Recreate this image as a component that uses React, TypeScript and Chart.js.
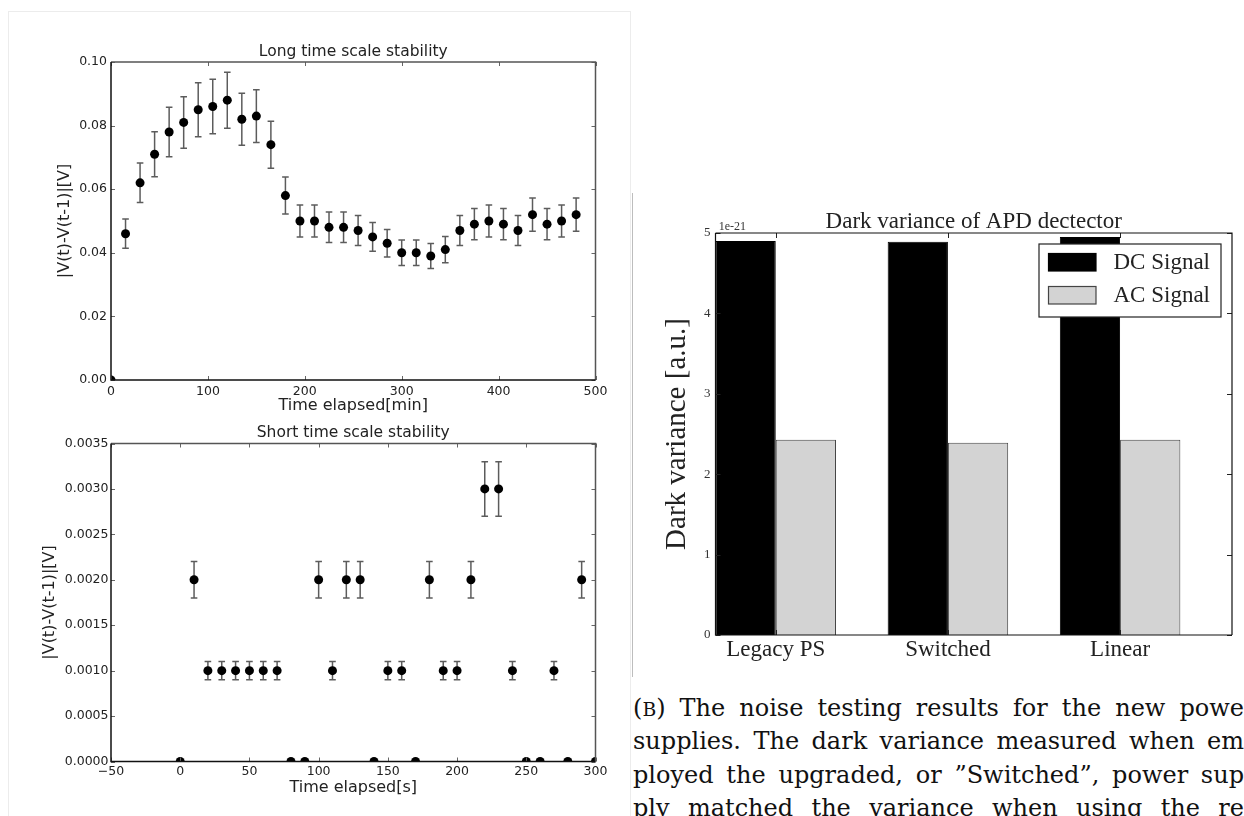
import React, { useEffect, useRef } from "react";
import { Chart, registerables } from "chart.js";

Chart.register(...registerables);

// ---------------- data ----------------
// Long time scale stability
const longTimeMin = [0, 15, 30, 45, 60, 75, 90, 105, 120, 135, 150, 165, 180, 195, 210, 225, 240, 255, 270, 285, 300, 315, 330, 345, 360, 375, 390, 405, 420, 435, 450, 465, 480];
const longDeltaV = [0, 0.046, 0.062, 0.071, 0.078, 0.081, 0.085, 0.086, 0.088, 0.082, 0.083, 0.074, 0.058, 0.05, 0.05, 0.048, 0.048, 0.047, 0.045, 0.043, 0.04, 0.04, 0.039, 0.041, 0.047, 0.049, 0.05, 0.049, 0.047, 0.052, 0.049, 0.05, 0.052];
const longErr = [0, 0.0046, 0.0062, 0.0071, 0.0078, 0.0081, 0.0085, 0.0086, 0.0088, 0.0082, 0.0083, 0.0074, 0.0058, 0.005, 0.005, 0.0048, 0.0048, 0.0047, 0.0045, 0.0043, 0.004, 0.004, 0.0039, 0.0041, 0.0047, 0.0049, 0.005, 0.0049, 0.0047, 0.0052, 0.0049, 0.005, 0.0052];
const longXTicks = [0, 100, 200, 300, 400, 500];
const longYTicks = [0, 0.02, 0.04, 0.06, 0.08, 0.1];

// Short time scale stability
const shortTimeS = [0, 10, 20, 30, 40, 50, 60, 70, 80, 90, 100, 110, 120, 130, 140, 150, 160, 170, 180, 190, 200, 210, 220, 230, 240, 250, 260, 270, 280, 290, 300];
const shortDeltaV = [0, 0.002, 0.001, 0.001, 0.001, 0.001, 0.001, 0.001, 0, 0, 0.002, 0.001, 0.002, 0.002, 0, 0.001, 0.001, 0, 0.002, 0.001, 0.001, 0.002, 0.003, 0.003, 0.001, 0, 0, 0.001, 0, 0.002, 0];
const shortErr = [0, 0.0002, 0.0001, 0.0001, 0.0001, 0.0001, 0.0001, 0.0001, 0, 0, 0.0002, 0.0001, 0.0002, 0.0002, 0, 0.0001, 0.0001, 0, 0.0002, 0.0001, 0.0001, 0.0002, 0.0003, 0.0003, 0.0001, 0, 0, 0.0001, 0, 0.0002, 0];
const shortXTicks = [-50, 0, 50, 100, 150, 200, 250, 300];
const shortYTicks = [0, 0.0005, 0.001, 0.0015, 0.002, 0.0025, 0.003, 0.0035];

// Dark variance of APD detector (values in units of 1e-21)
const supplyLabels = ["Legacy PS", "Switched", "Linear"];
const dcSignal = [4.9, 4.89, 4.95];
const acSignal = [2.43, 2.39, 2.43];
const varianceTicks = [0, 1, 2, 3, 4, 5];
const varianceExponent = "1e-21";
const groupTickOffset = 0.35; // tick sits between the DC and AC bar of each group

// Caption
const captionTag = "B";
const captionLines = [
  ") The noise testing results for the new powe",
  "supplies. The dark variance measured when em",
  "ployed the upgraded, or \u201DSwitched\u201D, power sup",
  "ply matched the variance when using the re",
];

// ---------------- styling helpers ----------------
const SANS = "DejaVu Sans";
const SERIF = "Liberation Serif";
const TXT = "#222222";

const errorBarPlugin = {
  id: "errorBars",
  beforeDatasetsDraw(chart: any, _a: any, o: any) {
    const { ctx, chartArea, scales } = chart;
    const ds = chart.data.datasets[0];
    ctx.save();
    ctx.beginPath();
    ctx.rect(chartArea.left, chartArea.top, chartArea.right - chartArea.left, chartArea.bottom - chartArea.top);
    ctx.clip();
    ctx.strokeStyle = o.color;
    ctx.lineWidth = o.width;
    ds.data.forEach((p: any, i: number) => {
      const e = o.errors[i];
      if (!e) return;
      const x = scales.x.getPixelForValue(p.x);
      const y1 = scales.y.getPixelForValue(p.y + e);
      const y2 = scales.y.getPixelForValue(p.y - e);
      ctx.beginPath();
      ctx.moveTo(x, y1);
      ctx.lineTo(x, y2);
      ctx.moveTo(x - o.cap, y1);
      ctx.lineTo(x + o.cap, y1);
      ctx.moveTo(x - o.cap, y2);
      ctx.lineTo(x + o.cap, y2);
      ctx.stroke();
    });
    ctx.restore();
  },
};

const framePlugin = {
  id: "frame",
  afterDraw(chart: any, _a: any, o: any) {
    const { ctx, chartArea, scales } = chart;
    const { left, right, top, bottom } = chartArea;
    ctx.save();
    // inward ticks on all four sides
    ctx.strokeStyle = o.tickColor;
    ctx.lineWidth = 1;
    ctx.beginPath();
    const L = o.tickLength;
    scales.x.ticks.forEach((t: any) => {
      const x = Math.round(scales.x.getPixelForValue(t.value)) + 0.5;
      ctx.moveTo(x, bottom);
      ctx.lineTo(x, bottom - L);
      ctx.moveTo(x, top);
      ctx.lineTo(x, top + L);
    });
    scales.y.ticks.forEach((t: any) => {
      const y = Math.round(scales.y.getPixelForValue(t.value)) + 0.5;
      ctx.moveTo(left, y);
      ctx.lineTo(left + L, y);
      ctx.moveTo(right, y);
      ctx.lineTo(right - L, y);
    });
    ctx.stroke();
    // spines
    ctx.lineWidth = o.width;
    ctx.strokeStyle = o.farColor;
    ctx.beginPath();
    ctx.moveTo(left, top);
    ctx.lineTo(right, top);
    ctx.lineTo(right, bottom);
    ctx.stroke();
    ctx.strokeStyle = o.nearColor;
    ctx.beginPath();
    ctx.moveTo(left, top);
    ctx.lineTo(left, bottom);
    ctx.lineTo(right, bottom);
    ctx.stroke();
    ctx.restore();
  },
};

const offsetTextPlugin = {
  id: "offsetText",
  afterDraw(chart: any, _a: any, o: any) {
    const { ctx, chartArea } = chart;
    ctx.save();
    ctx.font = o.font;
    ctx.fillStyle = o.color;
    ctx.textAlign = "left";
    ctx.textBaseline = "middle";
    ctx.fillText(o.text, chartArea.left + o.dx, chartArea.top + o.dy);
    ctx.restore();
  },
};

const boxLegendPlugin = {
  id: "boxLegend",
  afterDraw(chart: any, _a: any, o: any) {
    const { ctx, chartArea } = chart;
    const left = chartArea.right - o.inset - o.width;
    const top = chartArea.top + o.inset;
    ctx.save();
    ctx.fillStyle = "#fff";
    ctx.fillRect(left, top, o.width, o.height);
    ctx.strokeStyle = o.borderColor;
    ctx.lineWidth = 1.2;
    ctx.strokeRect(left, top, o.width, o.height);
    ctx.font = o.font;
    ctx.textAlign = "left";
    ctx.textBaseline = "middle";
    chart.data.datasets.forEach((ds: any, i: number) => {
      const sy = top + o.swatchTop + i * o.rowGap;
      const sx = left + o.swatchLeft;
      ctx.fillStyle = ds.backgroundColor;
      ctx.fillRect(sx, sy, o.swatchW, o.swatchH);
      ctx.strokeStyle = ds.borderColor;
      ctx.lineWidth = 1.2;
      ctx.strokeRect(sx, sy, o.swatchW, o.swatchH);
      ctx.fillStyle = o.color;
      ctx.fillText(ds.label, left + o.textLeft, sy + o.swatchH / 2 + 1);
    });
    ctx.restore();
  },
};

function stabilityConfig(p: any) {
  const tickFont = { family: SANS, size: 12.5 };
  const axisFont = { family: SANS, size: 16, lineHeight: 1.2 };
  return {
    type: "scatter",
    data: {
      datasets: [
        {
          data: p.xs.map((x: number, i: number) => ({ x, y: p.ys[i] })),
          pointRadius: 4.5,
          pointHoverRadius: 4.5,
          pointBackgroundColor: "#000",
          pointBorderColor: "#000",
          pointBorderWidth: 0,
          showLine: false,
          clip: 0,
        },
      ],
    },
    options: {
      responsive: false,
      animation: false,
      events: [],
      layout: { padding: p.padding },
      plugins: {
        legend: { display: false },
        tooltip: { enabled: false },
        title: {
          display: true,
          text: p.title,
          fullSize: false,
          color: TXT,
          font: { family: SANS, size: 15.5, weight: "normal", lineHeight: 1.2 },
          padding: { top: 0, bottom: 1 },
        },
        errorBars: { errors: p.errs, color: "#5c5c5c", width: 1.5, cap: 3.3 },
        frame: { tickColor: "#666", tickLength: 4, width: 1.5, nearColor: "#111", farColor: "#555" },
      },
      scales: {
        x: {
          type: "linear",
          min: p.xTicks[0],
          max: p.xTicks[p.xTicks.length - 1],
          afterBuildTicks: (s: any) => {
            s.ticks = p.xTicks.map((value: number) => ({ value }));
          },
          afterFit: (s: any) => {
            s.height = p.xHeight;
          },
          grid: { display: false, drawTicks: false },
          border: { display: false },
          ticks: {
            font: tickFont,
            color: TXT,
            padding: p.xTickPad,
            maxRotation: 0,
            autoSkip: false,
            callback: (v: number) => (v < 0 ? "\u2212" + Math.abs(v) : String(v)),
          },
          title: { display: true, text: p.xTitle, color: TXT, font: axisFont, padding: { top: 0, bottom: p.xTitlePad } },
        },
        y: {
          type: "linear",
          min: p.yTicks[0],
          max: p.yTicks[p.yTicks.length - 1],
          afterBuildTicks: (s: any) => {
            s.ticks = p.yTicks.map((value: number) => ({ value }));
          },
          afterFit: (s: any) => {
            s.width = p.yWidth;
          },
          grid: { display: false, drawTicks: false },
          border: { display: false },
          ticks: {
            font: tickFont,
            color: TXT,
            padding: p.yTickPad,
            autoSkip: false,
            callback: (v: number) => Number(v).toFixed(p.yDigits),
          },
          title: { display: true, text: "|V(t)-V(t-1)|[V]", color: TXT, font: axisFont, padding: { top: p.yTitlePad, bottom: 0 } },
        },
      },
    },
    plugins: [errorBarPlugin, framePlugin],
  };
}

function varianceConfig() {
  const positions = supplyLabels.map((_, i) => i + groupTickOffset);
  return {
    type: "bar",
    data: {
      datasets: [
        {
          label: "DC Signal",
          data: positions.map((x, i) => ({ x, y: dcSignal[i] })),
          backgroundColor: "#000000",
          borderColor: "#000000",
          borderWidth: 1,
          categoryPercentage: 0.7,
          barPercentage: 1,
        },
        {
          label: "AC Signal",
          data: positions.map((x, i) => ({ x, y: acSignal[i] })),
          backgroundColor: "#d3d3d3",
          borderColor: "#444444",
          borderWidth: 1,
          categoryPercentage: 0.7,
          barPercentage: 1,
        },
      ],
    },
    options: {
      responsive: false,
      animation: false,
      events: [],
      layout: { padding: { left: 20, right: 12, top: 20, bottom: 0 } },
      plugins: {
        legend: { display: false },
        tooltip: { enabled: false },
        title: {
          display: true,
          text: "Dark variance of APD dectector",
          fullSize: false,
          color: "#222",
          font: { family: SERIF, size: 23, weight: "normal", lineHeight: 1 },
          padding: { top: 0, bottom: 0 },
        },
        frame: { tickColor: "#222", tickLength: 5, width: 1.2, nearColor: "#111", farColor: "#111" },
        offsetText: { text: varianceExponent, font: `12px "${SERIF}"`, color: "#333", dx: 3.2, dy: -6.5 },
        boxLegend: {
          inset: 11,
          width: 182,
          height: 73,
          swatchLeft: 9.5,
          swatchTop: 9.5,
          rowGap: 33,
          swatchW: 47.5,
          swatchH: 17.5,
          textLeft: 74.5,
          font: `23px "${SERIF}"`,
          color: "#222",
          borderColor: "#222",
        },
      },
      scales: {
        x: {
          type: "linear",
          min: 0,
          max: supplyLabels.length,
          offset: false,
          afterBuildTicks: (s: any) => {
            s.ticks = positions.map((value) => ({ value }));
          },
          afterFit: (s: any) => {
            s.height = 35;
          },
          grid: { display: false, drawTicks: false, offset: false },
          border: { display: false },
          ticks: {
            font: { family: SERIF, size: 23, lineHeight: 1 },
            color: "#222",
            padding: 3.5,
            maxRotation: 0,
            autoSkip: false,
            callback: (_v: number, i: number) => supplyLabels[i],
          },
        },
        y: {
          type: "linear",
          min: varianceTicks[0],
          max: varianceTicks[varianceTicks.length - 1],
          afterBuildTicks: (s: any) => {
            s.ticks = varianceTicks.map((value) => ({ value }));
          },
          afterFit: (s: any) => {
            s.width = 55.5;
          },
          grid: { display: false, drawTicks: false },
          border: { display: false },
          ticks: {
            font: { family: SERIF, size: 13 },
            color: "#333",
            padding: 5,
            autoSkip: false,
            callback: (v: number) => String(v),
          },
          title: {
            display: true,
            text: "Dark variance [a.u.]",
            color: "#222",
            font: { family: SERIF, size: 29, lineHeight: 1 },
            padding: { top: 3.2, bottom: 0 },
          },
        },
      },
    },
    plugins: [framePlugin, offsetTextPlugin, boxLegendPlugin],
  };
}

function ChartCanvas({ make, left, top, width, height }: any) {
  const ref = useRef<HTMLCanvasElement>(null);
  useEffect(() => {
    const chart = new Chart(ref.current as HTMLCanvasElement, make() as any);
    return () => chart.destroy();
  }, []);
  return (
    <canvas
      ref={ref}
      width={width}
      height={height}
      style={{ position: "absolute", left, top, width, height }}
    />
  );
}

export default function App() {
  return (
    <div
      style={{
        position: "absolute",
        left: 0,
        top: 0,
        width: 1244,
        height: 816,
        overflow: "hidden",
        background: "#fff",
      }}
    >
      <div
        style={{
          position: "absolute",
          left: 7.5,
          top: 10.5,
          width: 623,
          height: 900,
          border: "1px solid #ececec",
          boxSizing: "border-box",
        }}
      />
      <div
        style={{
          position: "absolute",
          left: 632,
          top: 193,
          width: 0,
          height: 484,
          borderLeft: "1px solid #bdbdbd",
        }}
      />
      <ChartCanvas
        left={20}
        top={30}
        width={600}
        height={390}
        make={() =>
          stabilityConfig({
            xs: longTimeMin,
            ys: longDeltaV,
            errs: longErr,
            xTicks: longXTicks,
            yTicks: longYTicks,
            yDigits: 2,
            title: "Long time scale stability",
            xTitle: "Time elapsed[min]",
            padding: { left: 30, right: 24.5, top: 12.4, bottom: 5 },
            xHeight: 35,
            yWidth: 61,
            xTickPad: 4,
            yTickPad: 4,
            xTitlePad: 0,
            yTitlePad: 5.4,
          })
        }
      />
      <ChartCanvas
        left={20}
        top={418}
        width={600}
        height={398}
        make={() =>
          stabilityConfig({
            xs: shortTimeS,
            ys: shortDeltaV,
            errs: shortErr,
            xTicks: shortXTicks,
            yTicks: shortYTicks,
            yDigits: 4,
            title: "Short time scale stability",
            xTitle: "Time elapsed[s]",
            padding: { left: 10, right: 24.5, top: 5.9, bottom: 18 },
            xHeight: 36.5,
            yWidth: 81,
            xTickPad: 2.7,
            yTickPad: 2.5,
            xTitlePad: 0.1,
            yTitlePad: 9.8,
          })
        }
      />
      <ChartCanvas left={640} top={190} width={604} height={480} make={varianceConfig} />
      <div
        style={{
          position: "absolute",
          left: 633,
          top: 692,
          width: 611,
          fontFamily: `"DejaVu Serif", serif`,
          fontSize: 24,
          color: "#111",
        }}
      >
        {captionLines.map((line, i) => (
          <div
            key={i}
            style={{
              height: 33.3,
              lineHeight: "33.3px",
              textAlign: "justify",
              textAlignLast: "justify",
              whiteSpace: "normal",
            }}
          >
            {i === 0 ? (
              <>
                (<span style={{ fontSize: "0.78em" }}>{captionTag}</span>
                {line}
              </>
            ) : (
              line
            )}
          </div>
        ))}
      </div>
    </div>
  );
}
